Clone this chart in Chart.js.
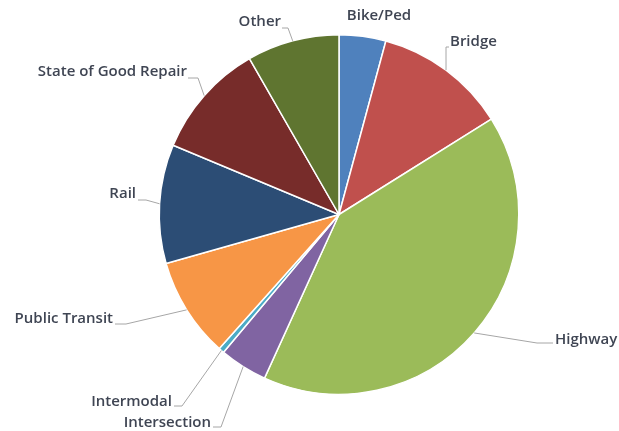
<!DOCTYPE html>
<html>
<head>
<meta charset="utf-8">
<script src="https://cdn.jsdelivr.net/npm/chart.js@4"></script>
<style>
    html, body { margin: 0; padding: 0; background: #fff; }
    #wrap { width: 619px; height: 431px; }
</style>
</head>
<body>
<div id="wrap"><canvas id="pieChart"></canvas></div>
<script>
// data (share of total, %)
const categories = ['Bike/Ped', 'Bridge', 'Highway', 'Intersection', 'Intermodal', 'Public Transit', 'Rail', 'State of Good Repair', 'Other'];
const shares = [4.2, 11.9, 40.7, 4.3, 0.5, 9.0, 10.7, 10.4, 8.3];
const colors = ['#4F81BD', '#C0504D', '#9BBB59', '#8064A2', '#4BACC6', '#F79646', '#2C4D75', '#772C2A', '#5F7530'];

// where each label sits and how its leader line bends (page layout, not data)
const labelLayout = [
    { x: 379, y: 16, align: 'center', leader: null },
    { x: 450, y: 42, align: 'left', leader: [[446, 47], [449, 47]] },
    { x: 555, y: 340, align: 'left', leader: [[537, 343], [553, 343]] },
    { x: 211, y: 423, align: 'right', leader: [[221, 427], [213, 427]] },
    { x: 172, y: 402, align: 'right', leader: [[182, 406], [174, 406]] },
    { x: 113, y: 319, align: 'right', leader: [[126, 324], [115, 324]] },
    { x: 136, y: 194, align: 'right', leader: [[146, 200], [138, 200]] },
    { x: 187, y: 72, align: 'right', leader: [[198, 78], [188, 78]] },
    { x: 281, y: 22, align: 'right', leader: [[288, 28], [282, 28]] }
];

const outsideLabels = {
    id: 'outsideLabels',
    afterDraw(chart) {
        const ctx = chart.ctx;
        const arcs = chart.getDatasetMeta(0).data;
        ctx.save();
        arcs.forEach((arc, i) => {
            const lay = labelLayout[i];
            const p = arc.getProps(['x', 'y', 'startAngle', 'endAngle', 'outerRadius'], true);
            const mid = (p.startAngle + p.endAngle) / 2;
            const ax = p.x + Math.cos(mid) * p.outerRadius;
            const ay = p.y + Math.sin(mid) * p.outerRadius;
            if (lay.leader) {
                ctx.strokeStyle = '#A6A6A6';
                ctx.lineWidth = 1;
                ctx.beginPath();
                ctx.moveTo(ax, ay);
                lay.leader.forEach(pt => ctx.lineTo(pt[0], pt[1]));
                ctx.stroke();
            }
            ctx.fillStyle = '#3F4553';
            ctx.font = '600 15px "Open Sans"';
            ctx.textAlign = lay.align;
            ctx.textBaseline = 'middle';
            ctx.fillText(categories[i], lay.x, lay.y);
        });
        ctx.restore();
    }
};

new Chart(document.getElementById('pieChart').getContext('2d'), {
    type: 'pie',
    data: {
        labels: categories,
        datasets: [{
            data: shares,
            backgroundColor: colors,
            borderColor: '#FFFFFF',
            borderWidth: 1.5
        }]
    },
    options: {
        responsive: true,
        maintainAspectRatio: false,
        animation: false,
        layout: {
            padding: { top: 34, bottom: 36, left: 59, right: 0 }
        },
        plugins: {
            legend: { display: false },
            tooltip: { enabled: false }
        }
    },
    plugins: [outsideLabels]
});
</script>
</body>
</html>
